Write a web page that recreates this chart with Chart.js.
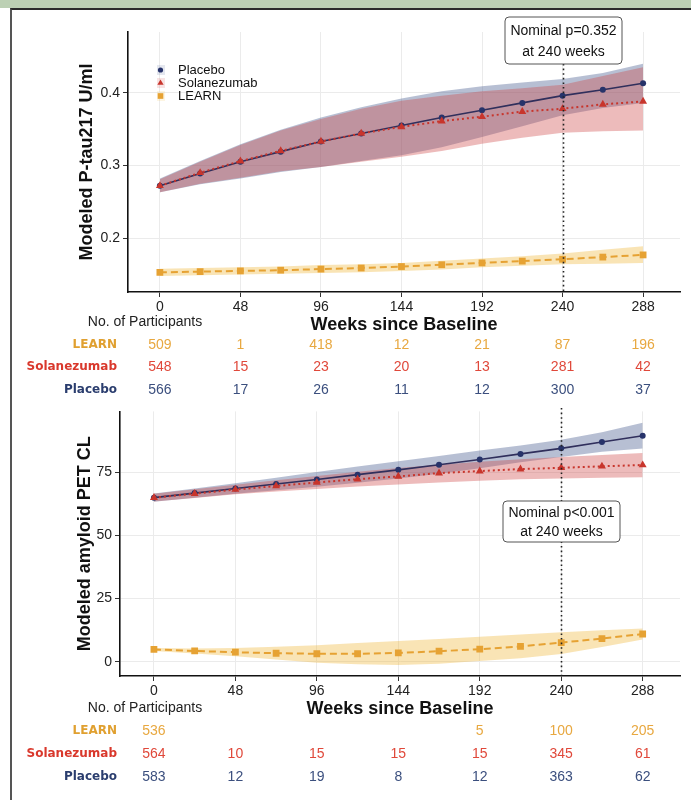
<!DOCTYPE html>
<html>
<head>
<meta charset="utf-8">
<script src="https://cdn.jsdelivr.net/npm/chart.js@4.4.1/dist/chart.umd.min.js"></script>
<style>
body { margin: 0; background: #fff; }
#page { position: relative; width: 691px; height: 800px; overflow: hidden; background: #fff; }
#strip { position: absolute; left: 0; top: 0; width: 691px; height: 8px; background: #bcd0b4; }
#frame { position: absolute; left: 10px; top: 8px; width: 681px; height: 792px; border-top: 2px solid #2b2b2b; border-left: 2px solid #555; box-sizing: border-box; }
canvas { position: absolute; left: 0; }
#ptau { top: 0; }
#amyloid { top: 400px; }
</style>
</head>
<body>
<div id="page">
  <div id="strip"></div>
  <div id="frame"></div>
  <canvas id="ptau" width="691" height="400"></canvas>
  <canvas id="amyloid" width="691" height="400"></canvas>
</div>
<script>
// weeks of modeled visits
const weeks = [0, 24, 48, 72, 96, 120, 144, 168, 192, 216, 240, 264, 288];
const xTicks = [0, 48, 96, 144, 192, 240, 288];

// P-tau217 (U/ml)
const ptauPlacebo    = [0.272, 0.289, 0.305, 0.319, 0.333, 0.344, 0.355, 0.366, 0.376, 0.386, 0.396, 0.404, 0.413];
const ptauPlaceboHi  = [0.282, 0.306, 0.329, 0.349, 0.366, 0.380, 0.392, 0.402, 0.409, 0.414, 0.419, 0.427, 0.440];
const ptauPlaceboLo  = [0.263, 0.274, 0.282, 0.291, 0.298, 0.306, 0.314, 0.325, 0.339, 0.354, 0.369, 0.379, 0.386];
const ptauSola       = [0.272, 0.290, 0.306, 0.320, 0.333, 0.344, 0.353, 0.361, 0.367, 0.374, 0.378, 0.384, 0.388];
const ptauSolaHi     = [0.281, 0.305, 0.328, 0.348, 0.364, 0.378, 0.389, 0.396, 0.402, 0.406, 0.411, 0.423, 0.435];
const ptauSolaLo     = [0.263, 0.275, 0.283, 0.292, 0.298, 0.305, 0.312, 0.320, 0.330, 0.338, 0.345, 0.347, 0.348];
const ptauLearn      = [0.153, 0.154, 0.155, 0.156, 0.1575, 0.159, 0.161, 0.1635, 0.166, 0.1685, 0.171, 0.174, 0.177];
const ptauLearnHi    = [0.158, 0.159, 0.160, 0.161, 0.163, 0.164, 0.166, 0.169, 0.172, 0.175, 0.179, 0.184, 0.189];
const ptauLearnLo    = [0.148, 0.149, 0.150, 0.151, 0.152, 0.153, 0.155, 0.157, 0.160, 0.162, 0.164, 0.165, 0.166];
const ptauYTicks = [0.2, 0.3, 0.4];

// amyloid PET (Centiloid)
const amyPlacebo   = [64.9, 66.7, 68.5, 70.3, 72.1, 74.0, 75.9, 77.9, 80.0, 82.2, 84.4, 86.9, 89.4];
const amyPlaceboHi = [66.5, 68.5, 70.6, 72.8, 75.0, 77.2, 79.3, 81.4, 83.5, 85.5, 87.8, 90.8, 94.5];
const amyPlaceboLo = [63.3, 64.9, 66.4, 67.8, 69.2, 70.8, 72.5, 74.4, 76.5, 78.9, 81.0, 83.0, 84.3];
const amySola      = [64.9, 66.5, 68.1, 69.5, 70.9, 72.2, 73.3, 74.6, 75.4, 76.2, 76.7, 77.3, 77.8];
const amySolaHi    = [66.4, 68.2, 70.0, 71.8, 73.5, 75.1, 76.6, 77.9, 79.1, 80.1, 81.0, 81.8, 82.6];
const amySolaLo    = [63.4, 64.8, 66.2, 67.3, 68.3, 69.3, 70.1, 70.9, 71.6, 72.2, 72.5, 72.8, 73.0];
const amyLearn     = [4.9, 4.3, 3.8, 3.4, 3.2, 3.2, 3.5, 4.2, 5.0, 6.1, 7.6, 9.2, 11.0];
const amyLearnHi   = [5.5, 5.3, 5.5, 6.0, 6.6, 7.4, 8.2, 9.0, 9.9, 10.8, 11.7, 12.5, 13.2];
const amyLearnLo   = [4.3, 3.3, 2.2, 0.9, -0.4, -1.0, -1.3, -0.8, 0.3, 1.4, 3.1, 5.9, 8.8];
const amyYTicks = [0, 25, 50, 75];

// number of participants at each tick
const groups = ['LEARN', 'Solanezumab', 'Placebo'];
const ptauN = [
    ['509', '1', '418', '12', '21', '87', '196'],
    ['548', '15', '23', '20', '13', '281', '42'],
    ['566', '17', '26', '11', '12', '300', '37']
];
const amyN = [
    ['536', '', '', '', '5', '100', '205'],
    ['564', '10', '15', '15', '15', '345', '61'],
    ['583', '12', '19', '8', '12', '363', '62']
];

const NAVY = '#27336a', RED = '#c8352c', GOLD = '#e6a233';
const BAND_PLA = 'rgba(75, 95, 145, 0.40)';
const BAND_SOL = 'rgba(205, 70, 70, 0.37)';
const BAND_LRN = 'rgba(240, 185, 60, 0.38)';
const labelColors = ['#e0a030', '#d9382c', '#2a3d6e'];
const countColors = ['#e8a840', '#e0483a', '#3b4f7e'];
const SANS = '"Liberation Sans", Arial, sans-serif';

function pts(vals) {
    return weeks.map((w, i) => ({ x: w, y: vals[i] }));
}

function band(vals, color, fill) {
    return { data: pts(vals), borderWidth: 0, pointRadius: 0, backgroundColor: color, fill: fill, order: 1 };
}

function buildDatasets(pla, plaHi, plaLo, sol, solHi, solLo, lrn, lrnHi, lrnLo) {
    return [
        band(solHi, BAND_SOL, '+1'), band(solLo, BAND_SOL, false),
        band(plaHi, BAND_PLA, '+1'), band(plaLo, BAND_PLA, false),
        band(lrnHi, BAND_LRN, '+1'), band(lrnLo, BAND_LRN, false),
        { label: 'Solanezumab', data: pts(sol), borderColor: RED, borderWidth: 2, borderDash: [2, 3],
          pointStyle: 'triangle', pointRadius: 4.6, pointBackgroundColor: RED, pointBorderWidth: 0, fill: false, order: 0 },
        { label: 'Placebo', data: pts(pla), borderColor: '#302f5c', borderWidth: 1.6,
          pointStyle: 'circle', pointRadius: 3, pointBackgroundColor: NAVY, pointBorderWidth: 0, fill: false, order: 0 },
        { label: 'LEARN', data: pts(lrn), borderColor: GOLD, borderWidth: 2, borderDash: [7, 4],
          pointStyle: 'rect', pointRadius: 4.8, pointBackgroundColor: GOLD, pointBorderWidth: 0, fill: false, order: 0 }
    ];
}

// dotted 240-week line, p-value box, legend and participant table
const extras = {
    id: 'extras',
    afterDraw(chart, args, o) {
        const ctx = chart.ctx, xs = chart.scales.x, area = chart.chartArea;
        const x240 = Math.round(xs.getPixelForValue(240)) + 0.5;
        ctx.save();

        ctx.strokeStyle = '#222';
        ctx.lineWidth = 1.6;
        ctx.setLineDash([1.6, 3]);
        ctx.beginPath();
        ctx.moveTo(x240, o.lineTop);
        ctx.lineTo(x240, area.bottom);
        ctx.stroke();
        ctx.setLineDash([]);

        const bw = 117, bh = o.boxH;
        const bx = x240 - bw / 2, by = o.boxY;
        ctx.fillStyle = '#fff';
        ctx.strokeStyle = '#555';
        ctx.lineWidth = 1;
        ctx.beginPath();
        ctx.roundRect(bx, by, bw, bh, 4);
        ctx.fill();
        ctx.stroke();
        ctx.fillStyle = '#111';
        ctx.font = '14px ' + SANS;
        ctx.textAlign = 'center';
        ctx.textBaseline = 'middle';
        ctx.fillText(o.pText, x240, by + bh * 0.3);
        ctx.fillText('at 240 weeks', x240, by + bh * 0.75);

        if (o.legend) {
            const keys = [
                { t: 'Placebo', c: NAVY, band: 'rgba(75, 95, 145, 0.15)', s: 'circle', r: 2.6 },
                { t: 'Solanezumab', c: RED, band: 'rgba(205, 70, 70, 0.15)', s: 'triangle', r: 3.6 },
                { t: 'LEARN', c: GOLD, band: 'rgba(240, 185, 60, 0.15)', s: 'rect', r: 4 }
            ];
            ctx.font = '13px ' + SANS;
            ctx.textAlign = 'left';
            keys.forEach((k, i) => {
                const ky = 70 + i * 13;
                ctx.fillStyle = k.band;
                ctx.fillRect(157, ky - 5, 8, 10);
                ctx.fillStyle = k.c;
                Chart.helpers.drawPoint(ctx, { pointStyle: k.s, radius: k.r, borderWidth: 0 }, 160.5, ky);
                ctx.fillStyle = '#111';
                ctx.fillText(k.t, 178, ky + 0.5);
            });
        }

        ctx.textAlign = 'center';
        ctx.fillStyle = '#222';
        ctx.font = '14px ' + SANS;
        ctx.fillText('No. of Participants', 145, o.headY);
        groups.forEach((g, i) => {
            const y = o.rowY[i];
            ctx.textAlign = 'right';
            ctx.fillStyle = labelColors[i];
            ctx.font = 'bold 12px "DejaVu Sans", sans-serif';
            ctx.fillText(g, 117, y);
            ctx.textAlign = 'center';
            ctx.fillStyle = countColors[i];
            ctx.font = '14px ' + SANS;
            o.counts[i].forEach((n, j) => {
                ctx.fillText(n, xs.getPixelForValue(xTicks[j]), y);
            });
        });
        ctx.restore();
    }
};

function makeChart(id, datasets, cfg) {
    return new Chart(document.getElementById(id), {
        type: 'line',
        data: { datasets: datasets },
        plugins: [extras],
        options: {
            responsive: false,
            animation: false,
            devicePixelRatio: 1,
            layout: { padding: { left: 0, top: cfg.top, right: 11, bottom: cfg.bottom } },
            plugins: {
                legend: { display: false },
                tooltip: { enabled: false },
                extras: cfg.extras
            },
            scales: {
                x: {
                    type: 'linear', min: cfg.xMin, max: 310,
                    afterBuildTicks: s => { s.ticks = xTicks.map(v => ({ value: v })); },
                    afterFit: s => { s.height = 50; },
                    grid: { color: '#ebebeb', tickColor: '#333', tickLength: 5 },
                    border: { color: '#111', width: 1.6 },
                    ticks: { color: '#222', padding: 2, maxRotation: 0, font: { family: SANS, size: 14 } },
                    title: { display: true, text: 'Weeks since Baseline', color: '#111',
                             padding: { top: 0, bottom: 6 }, font: { family: SANS, size: 18, weight: 'bold' } }
                },
                y: {
                    min: cfg.yMin, max: cfg.yMax,
                    afterBuildTicks: s => { s.ticks = cfg.yTicks.map(v => ({ value: v })); },
                    afterFit: s => { s.width = cfg.yWidth; },
                    grid: { color: '#ebebeb', tickColor: '#333', tickLength: 5 },
                    border: { color: '#111', width: 1.6 },
                    ticks: { color: '#222', padding: 3, font: { family: SANS, size: 14 }, callback: cfg.fmt },
                    title: { display: true, text: cfg.yTitle, color: '#111',
                             padding: { top: cfg.titlePad }, font: { family: SANS, size: 18, weight: 'bold' } }
                }
            }
        }
    });
}

makeChart('ptau',
    buildDatasets(ptauPlacebo, ptauPlaceboHi, ptauPlaceboLo, ptauSola, ptauSolaHi, ptauSolaLo, ptauLearn, ptauLearnHi, ptauLearnLo),
    {
        top: 32, bottom: 58, xMin: -19, yMin: 0.126, yMax: 0.4835, yTicks: ptauYTicks, yWidth: 128,
        yTitle: 'Modeled P-tau217 U/ml', titlePad: 76, fmt: v => v.toFixed(1),
        extras: { lineTop: 64, boxY: 17, boxH: 47, pText: 'Nominal p=0.352', legend: true,
                  headY: 322, rowY: [345, 367, 390], counts: ptauN }
    });

makeChart('amyloid',
    buildDatasets(amyPlacebo, amyPlaceboHi, amyPlaceboLo, amySola, amySolaHi, amySolaLo, amyLearn, amyLearnHi, amyLearnLo),
    {
        top: 8, bottom: 74, xMin: -20, yMin: -5.6, yMax: 99, yTicks: amyYTicks, yWidth: 120,
        yTitle: 'Modeled amyloid PET CL', titlePad: 74, fmt: v => String(v),
        extras: { lineTop: 8, boxY: 101, boxH: 41, pText: 'Nominal p<0.001', legend: false,
                  headY: 308, rowY: [331, 354, 377], counts: amyN }
    });
</script>
</body>
</html>
